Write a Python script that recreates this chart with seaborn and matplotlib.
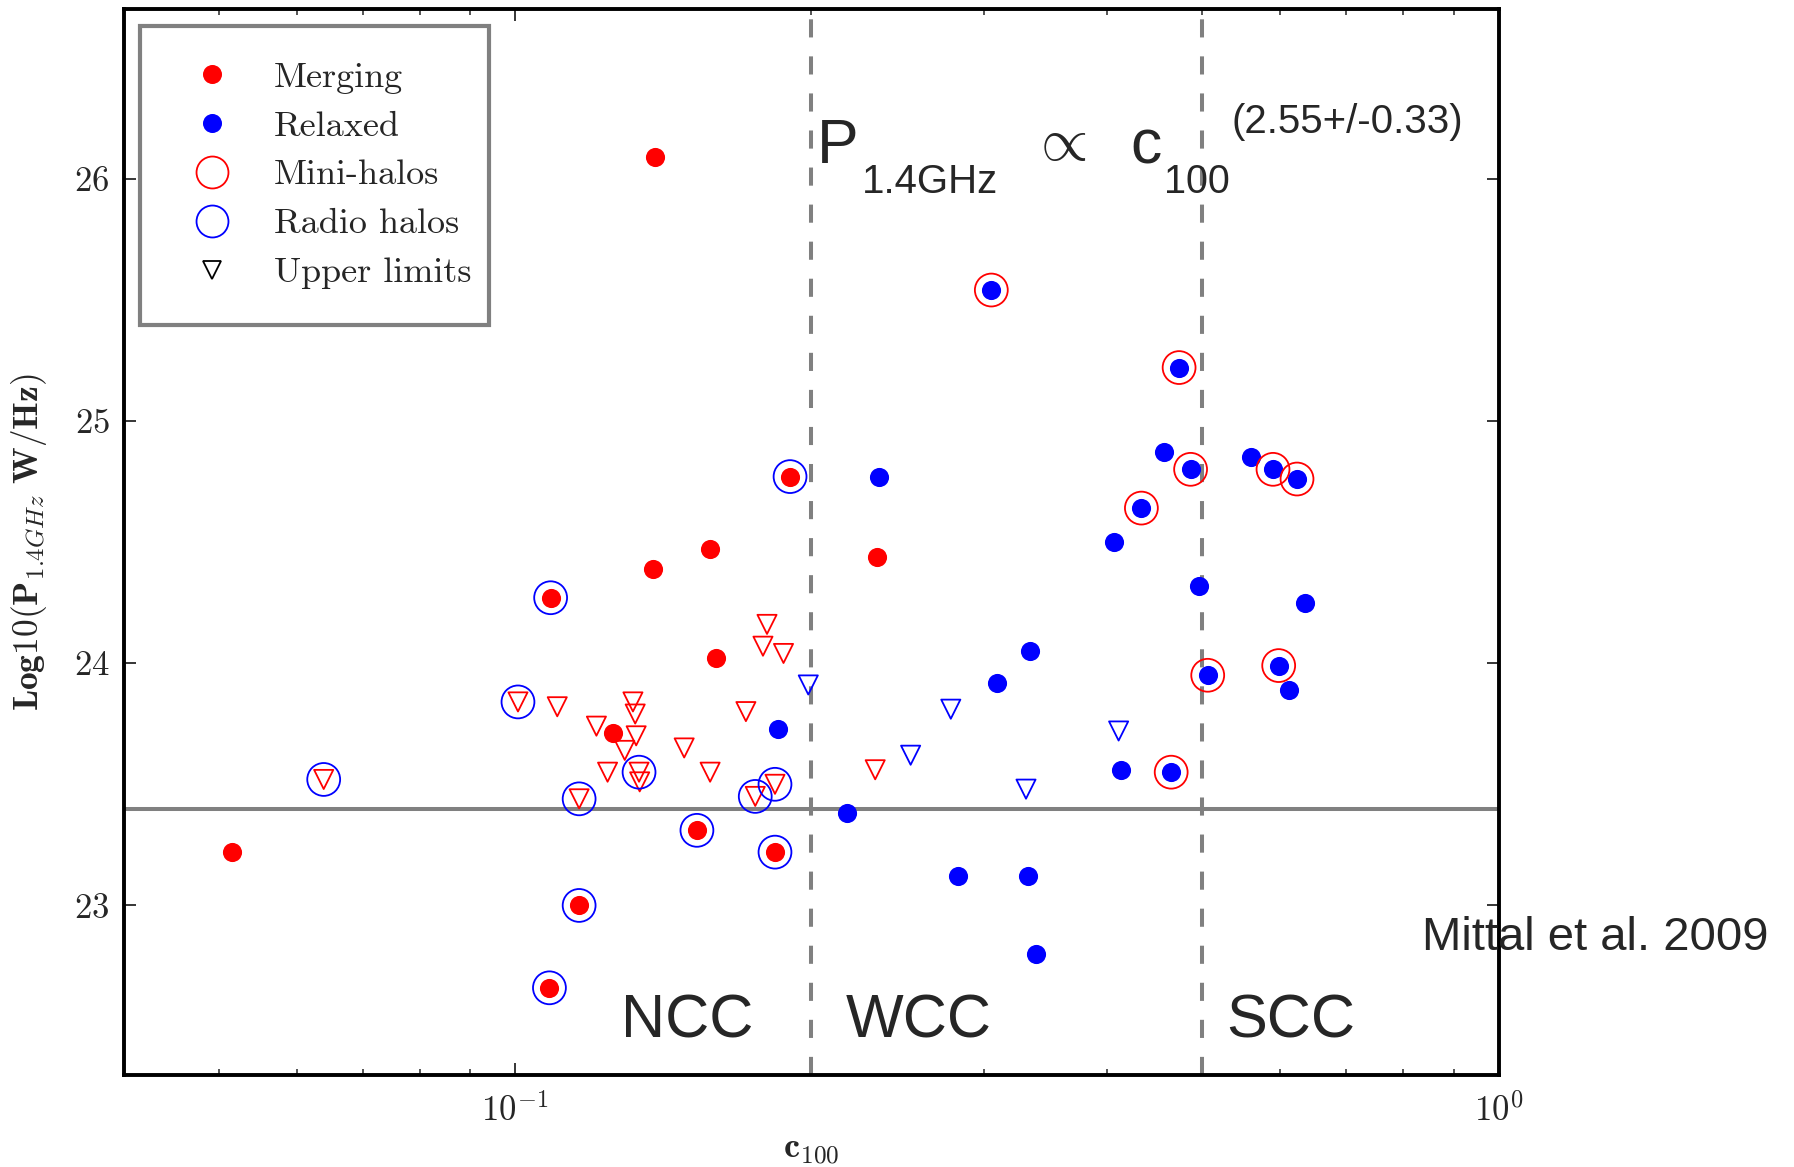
import numpy as np
import pandas as pd
import matplotlib
matplotlib.use("Agg")
import matplotlib.pyplot as plt
import seaborn as sns
from matplotlib.lines import Line2D
from matplotlib.patches import Rectangle
from matplotlib.ticker import FixedLocator, FixedFormatter, LogLocator, NullFormatter

# ---- data: concentration parameter c100 vs. log10 radio power at 1.4 GHz ----
# merging clusters, radio detections
merging_c100 = [0.0516, 0.1387, 0.1087, 0.1383, 0.1577, 0.1602, 0.1259,
                0.1904, 0.2333, 0.1531, 0.1838, 0.1162, 0.1084]
merging_logP = [23.22, 26.09, 24.27, 24.39, 24.47, 24.02, 23.71,
                24.77, 24.44, 23.31, 23.22, 23.00, 22.66]
merging_radio_halo = [False, False, True, False, False, False, False,
                      True, False, True, True, True, True]

# relaxed clusters, radio detections
relaxed_c100 = [0.3050, 0.4734, 0.4572, 0.4863, 0.4334, 0.4062, 0.4955, 0.5606,
                0.5898, 0.6239, 0.6358, 0.5977, 0.6124, 0.5062, 0.4647, 0.4128,
                0.3342, 0.3091, 0.2346, 0.1852, 0.2176, 0.2822, 0.3323, 0.3386]
relaxed_logP = [25.54, 25.22, 24.87, 24.80, 24.64, 24.50, 24.32, 24.85,
                24.80, 24.76, 24.25, 23.99, 23.89, 23.95, 23.55, 23.56,
                24.05, 23.92, 24.77, 23.73, 23.38, 23.12, 23.12, 22.80]
relaxed_mini_halo = [True, True, False, True, True, False, False, False,
                     True, True, False, True, False, True, True, False,
                     False, False, False, False, False, False, False, False]

# merging clusters, upper limits
merging_ul_c100 = [0.1007, 0.1104, 0.1210, 0.1318, 0.1325, 0.1328, 0.1293,
                   0.1242, 0.1337, 0.1339, 0.1162, 0.1486, 0.1579, 0.1717,
                   0.1804, 0.1787, 0.1875, 0.1755, 0.1838, 0.2324, 0.0639]
merging_ul_logP = [23.84, 23.82, 23.74, 23.84, 23.79, 23.70, 23.64,
                   23.55, 23.55, 23.51, 23.44, 23.65, 23.55, 23.80,
                   24.16, 24.07, 24.04, 23.45, 23.50, 23.56, 23.52]
merging_ul_radio_halo = [True, False, False, False, False, False, False,
                         False, True, False, True, False, False, False,
                         False, False, False, True, True, False, True]

# relaxed clusters, upper limits
relaxed_ul_c100 = [0.1987, 0.2525, 0.2774, 0.3308, 0.4109]
relaxed_ul_logP = [23.91, 23.62, 23.81, 23.48, 23.72]

# class boundaries and detection threshold
ncc_wcc_boundary = 0.2
wcc_scc_boundary = 0.5
power_threshold = 23.4

legend_labels = ["Merging", "Relaxed", "Mini-halos", "Radio halos", "Upper limits"]

merging = pd.DataFrame({"c100": merging_c100, "logP": merging_logP, "halo": merging_radio_halo})
relaxed = pd.DataFrame({"c100": relaxed_c100, "logP": relaxed_logP, "halo": relaxed_mini_halo})
merging_ul = pd.DataFrame({"c100": merging_ul_c100, "logP": merging_ul_logP, "halo": merging_ul_radio_halo})
relaxed_ul = pd.DataFrame({"c100": relaxed_ul_c100, "logP": relaxed_ul_logP})

# ---- style ----
sns.set_style("ticks")
plt.rcParams["font.family"] = ["cmr10", "DejaVu Serif"]
plt.rcParams["mathtext.fontset"] = "cm"
plt.rcParams["axes.formatter.use_mathtext"] = True
plt.rcParams["axes.unicode_minus"] = False

W, H = 1794, 1167
fig = plt.figure(figsize=(W / 100, H / 100), dpi=100)
ax = fig.add_axes([0.0689, 0.0788, 0.7664, 0.9135])
ax.set_xscale("log")

GRAY = "#808080"
DOT = 190
RING = 560

# region boundaries and threshold
ax.axvline(ncc_wcc_boundary, color=GRAY, lw=2.9, dashes=(4.5, 4.7), zorder=1)
ax.axvline(wcc_scc_boundary, color=GRAY, lw=2.9, dashes=(4.5, 4.7), zorder=1)
ax.axhline(power_threshold, color=GRAY, lw=2.9, zorder=1)

# filled detections
sns.scatterplot(data=merging, x="c100", y="logP", ax=ax, color="#ff0000",
                marker="o", s=DOT, linewidth=0, zorder=3, legend=False)
sns.scatterplot(data=relaxed, x="c100", y="logP", ax=ax, color="#0000ff",
                marker="o", s=DOT, linewidth=0, zorder=3, legend=False)

# upper limits
sns.scatterplot(data=merging_ul, x="c100", y="logP", ax=ax, marker="v", s=DOT,
                facecolors="none", edgecolor="#ff0000", linewidth=1.3, zorder=3, legend=False)
sns.scatterplot(data=relaxed_ul, x="c100", y="logP", ax=ax, marker="v", s=DOT,
                facecolors="none", edgecolor="#0000ff", linewidth=1.3, zorder=3, legend=False)

# rings: radio halos (blue) and mini-halos (red)
sns.scatterplot(data=merging[merging.halo], x="c100", y="logP", ax=ax, marker="o", s=RING,
                facecolors="none", edgecolor="#0000ff", linewidth=1.3, zorder=4, legend=False)
sns.scatterplot(data=merging_ul[merging_ul.halo], x="c100", y="logP", ax=ax, marker="o", s=RING,
                facecolors="none", edgecolor="#0000ff", linewidth=1.3, zorder=4, legend=False)
sns.scatterplot(data=relaxed[relaxed.halo], x="c100", y="logP", ax=ax, marker="o", s=RING,
                facecolors="none", edgecolor="#ff0000", linewidth=1.3, zorder=4, legend=False)

# ---- axes ----
ax.set_xlim(0.04, 1.0)
ax.set_ylim(22.3, 26.7)
ax.xaxis.set_major_locator(FixedLocator([0.1, 1.0]))
ax.xaxis.set_major_formatter(FixedFormatter([r"$10^{-1}$", r"$10^{0}$"]))
ax.xaxis.set_minor_locator(LogLocator(base=10, subs=np.arange(2, 10)))
ax.xaxis.set_minor_formatter(NullFormatter())
ax.yaxis.set_major_locator(FixedLocator([23, 24, 25, 26]))
ax.yaxis.set_minor_locator(FixedLocator([]))

ax.tick_params(which="both", direction="in", top=True, right=True, labelsize=25, pad=10)
ax.tick_params(axis="x", which="major", pad=13)
ax.tick_params(which="major", length=8.6, width=1.3)
ax.tick_params(which="minor", length=4.3, width=1.1)
for sp in ax.spines.values():
    sp.set_linewidth(2.8)
    sp.set_color("black")

ax.set_xlabel(r"$\mathbf{c}_{\mathbf{100}}$", fontsize=26)
ax.set_ylabel(r"$\mathbf{Log10(P}_{\mathit{1.4GHz}}\mathbf{\ W/Hz)}$", fontsize=25.5)
ax.xaxis.set_label_coords(0.5, -0.057)
ax.yaxis.set_label_coords(-0.054, 0.5)

# ---- legend ----
handles = [
    Line2D([], [], ls="none", marker="o", color="#ff0000", markersize=13.7, markeredgewidth=0),
    Line2D([], [], ls="none", marker="o", color="#0000ff", markersize=13.7, markeredgewidth=0),
    Line2D([], [], ls="none", marker="o", markerfacecolor="none", markeredgecolor="#ff0000",
           markersize=23, markeredgewidth=1.3),
    Line2D([], [], ls="none", marker="o", markerfacecolor="none", markeredgecolor="#0000ff",
           markersize=23, markeredgewidth=1.3),
    Line2D([], [], ls="none", marker="v", markerfacecolor="none", markeredgecolor="black",
           markersize=13, markeredgewidth=1.3),
]
leg = ax.legend(handles, legend_labels, loc="upper left", bbox_to_anchor=(0.0119, 0.9695),
                borderaxespad=0, frameon=False,
                prop={"family": "cmr10", "size": 26},
                borderpad=0.55, labelspacing=0.46, handlelength=2.9, handletextpad=0.25)
leg.set_zorder(6)
# legend frame, padded more vertically than horizontally
ax.add_patch(Rectangle((0.0119, 0.7036), 0.2538, 0.2805, transform=ax.transAxes,
                       facecolor="white", edgecolor=GRAY, linewidth=3.0, zorder=5))

# ---- annotations ----
SANS = ["Liberation Sans", "DejaVu Sans"]


def label(x, y, s, size, family=SANS):
    fig.text(x / W, 1 - y / H, s, fontsize=size, family=family, ha="left", va="baseline")


label(817, 163, "P", 45)
label(862, 193, "1.4GHz", 29)
label(1030, 160, r"$\propto$", 44)
label(1130, 163, "c", 45)
label(1164, 193, "100", 28.5)
label(1232, 133, "(2.55+/-0.33)", 29)
label(621, 1038, "NCC", 44)
label(846, 1038, "WCC", 44)
label(1226, 1038, "SCC", 44)
label(1422, 950, "Mittal et al. 2009", 34)

fig.savefig("out.png", dpi=100)
